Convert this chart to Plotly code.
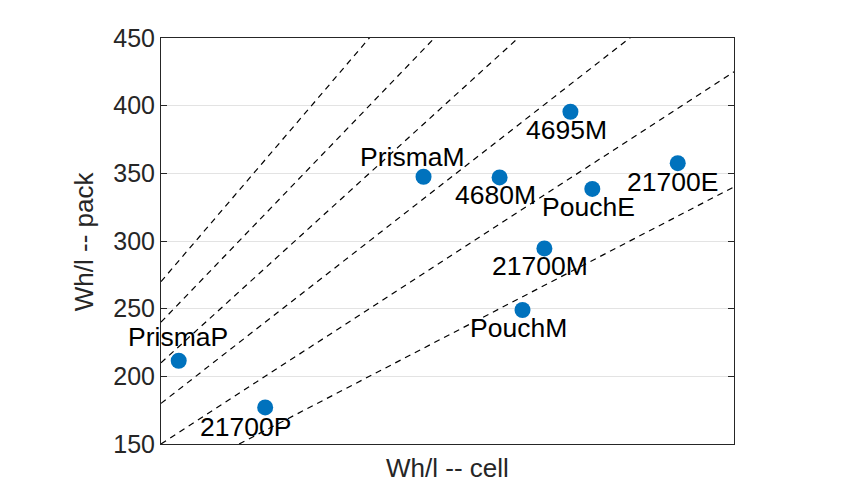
import plotly.graph_objects as go

# ---- data ----
names = ["PrismaP", "21700P", "PrismaM", "4680M", "4695M", "PouchE", "21700E", "21700M", "PouchM"]
cell_whl = [317, 400, 552, 625, 693, 714, 796, 668, 647]
pack_whl = [211.5, 177, 347.5, 347, 395.5, 338.5, 357.5, 294.5, 249]
ratios = [0.4, 0.5, 0.6, 0.7, 0.8, 0.9]
x_range = [300, 850]
y_ticks = [150, 200, 250, 300, 350, 400, 450]

# label offsets in pixels (dx right, dy down) -- style only
label_dx = [-1, -20, -11, -4, -4, -4, -5, -4, -4]
label_dy = [-24, 20, -20, 18, 18, 18, 19, 18, 18]

FONT = "Liberation Sans, Arial, sans-serif"

fig = go.Figure()

for k in ratios:
    fig.add_trace(go.Scatter(
        x=x_range, y=[k * x_range[0], k * x_range[1]], mode="lines",
        line=dict(color="black", width=1.2, dash="6px,5px"),
        hoverinfo="skip", showlegend=False))

fig.add_trace(go.Scatter(
    x=cell_whl, y=pack_whl, mode="markers",
    marker=dict(color="#0072BD", size=16, line=dict(width=0)),
    showlegend=False, cliponaxis=False))

annotations = []
for n, x, y, dx, dy in zip(names, cell_whl, pack_whl, label_dx, label_dy):
    annotations.append(dict(
        x=x, y=y, xref="x", yref="y", text=n, showarrow=False,
        xanchor="center", yanchor="middle", xshift=dx, yshift=-dy,
        font=dict(family=FONT, size=26.5, color="black")))

annotations.append(dict(
    x=0.5, y=-0.059, xref="paper", yref="paper", text="Wh/l -- cell",
    showarrow=False, xanchor="center", yanchor="middle",
    font=dict(family=FONT, size=26, color="#262626")))
annotations.append(dict(
    x=-0.134, y=0.5, xref="paper", yref="paper", text="Wh/l -- pack",
    showarrow=False, xanchor="center", yanchor="middle", textangle=-90,
    font=dict(family=FONT, size=26, color="#262626")))

fig.update_layout(
    width=868, height=500,
    margin=dict(l=161, r=134, t=38, b=56),
    paper_bgcolor="white", plot_bgcolor="white",
    annotations=annotations,
    font=dict(family=FONT, size=25, color="#262626"),
    xaxis=dict(range=x_range, showticklabels=False, showgrid=False, zeroline=False,
               showline=True, linecolor="#262626", linewidth=1, mirror=True,
               ticks=""),
    yaxis=dict(range=[150, 450], tickvals=y_ticks, showgrid=True, gridcolor="#e3e3e3",
               gridwidth=1, zeroline=False, showline=True, linecolor="#262626",
               linewidth=1, mirror="ticks", ticks="inside", ticklen=6,
               tickcolor="#262626", tickfont=dict(family=FONT, size=25, color="#262626")),
)

fig.write_html("out.html")
